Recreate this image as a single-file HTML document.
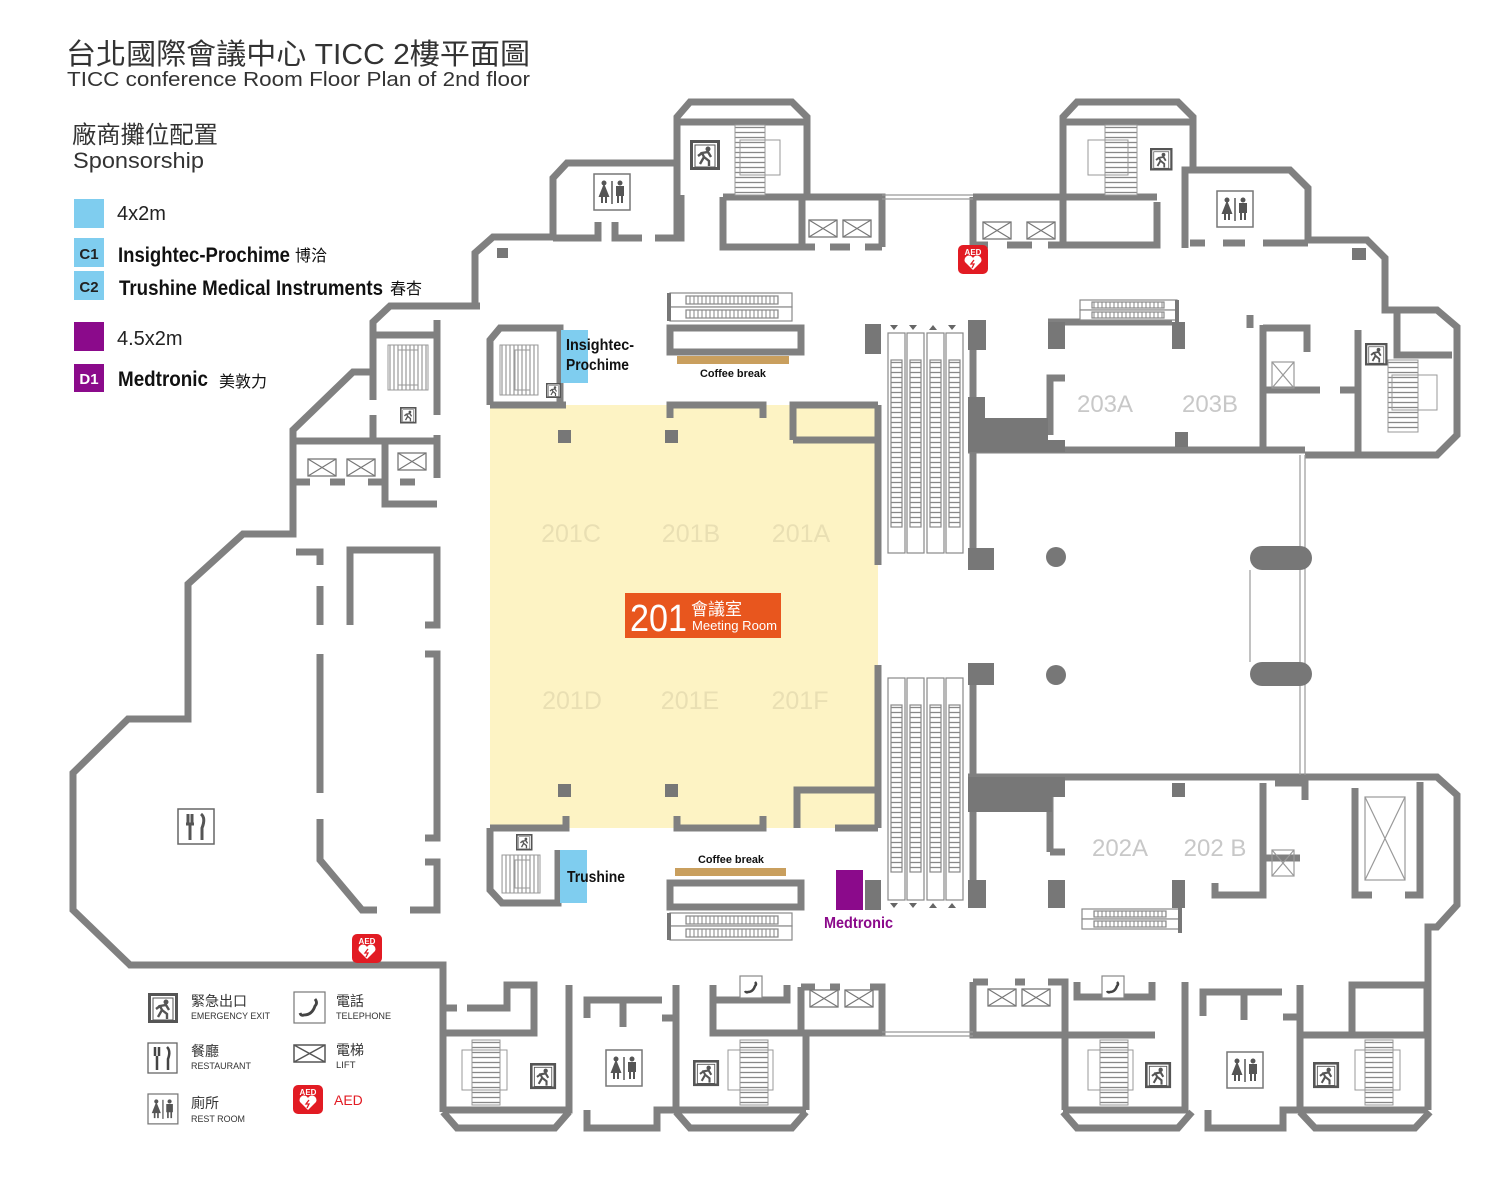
<!DOCTYPE html>
<html><head><meta charset="utf-8"><style>
html,body{margin:0;padding:0;background:#fff;}
svg{display:block;}
.t{font-family:"Liberation Sans","Noto Sans CJK TC",sans-serif;}
.n{font-family:"Liberation Sans Narrow","Liberation Sans","Noto Sans CJK TC",sans-serif;font-weight:bold;}
</style></head><body>
<svg width="1500" height="1178" viewBox="0 0 1500 1178" xmlns="http://www.w3.org/2000/svg">
<defs>
<pattern id="tread" width="6" height="5" patternUnits="userSpaceOnUse"><rect width="6" height="5" fill="#fff"/><line x1="0" y1="2.5" x2="6" y2="2.5" stroke="#888" stroke-width="1.3"/></pattern>
<pattern id="treadv" width="4" height="6" patternUnits="userSpaceOnUse"><rect width="4" height="6" fill="#fff"/><line x1="2" y1="0" x2="2" y2="6" stroke="#999" stroke-width="1.2"/></pattern>
<g id="exit"><rect x="0" y="0" width="30" height="30" fill="#555"/><rect x="3" y="3" width="24" height="24" fill="#fff"/><path d="M5 27 L5 5 L25 5 L25 27 Z" fill="none" stroke="#555" stroke-width="1"/><circle cx="18" cy="9" r="2.5" fill="#555"/><path d="M10 24 L14 17 L12 13 L18 12 L21 17 M14 17 L19 21 L19 26 M12 13 L8 16" fill="none" stroke="#555" stroke-width="2.4"/></g>
<g id="wc"><rect x="0" y="0" width="36" height="36" fill="#fff" stroke="#777" stroke-width="1.5"/><circle cx="10" cy="9" r="2.5" fill="#555"/><path d="M6 22 L10 12 L14 22 Z M8 22 L8 29 M12 22 L12 29" fill="#555" stroke="#555" stroke-width="2"/><line x1="18" y1="7" x2="18" y2="30" stroke="#555" stroke-width="1.5"/><circle cx="26" cy="9" r="2.5" fill="#555"/><path d="M23 13 L29 13 L29 21 L23 21 Z M24 21 L24 29 M28 21 L28 29" fill="#555" stroke="#555" stroke-width="2"/></g>
<g id="lift"><rect x="0" y="0" width="28" height="17" fill="#fff" stroke="#777" stroke-width="1.3"/><path d="M0 0 L28 17 M28 0 L0 17" stroke="#777" stroke-width="1.2"/></g>
<g id="aed"><rect x="0" y="0" width="30" height="29" rx="5" fill="#e21b23"/><text x="15" y="10" font-size="8" fill="#fff" text-anchor="middle" font-family="Liberation Sans" font-weight="bold">AED</text><path d="M15 25 L7 17 A4 4 0 0 1 15 13 A4 4 0 0 1 23 17 Z" fill="#fff"/><path d="M16 15 L13 19 L16 19 L14 23" stroke="#e21b23" stroke-width="1.3" fill="none"/></g>
<g id="phone"><rect x="0" y="0" width="22" height="22" fill="#fff" stroke="#888" stroke-width="1.2"/><path d="M15 6 Q17 8 15 10 Q13 16 8 16 Q6 17 5 15" fill="none" stroke="#444" stroke-width="2.5"/></g>
</defs>

<!-- Titles -->
<text class="t" x="66" y="64" font-size="29" fill="#333" textLength="464" lengthAdjust="spacingAndGlyphs">台北國際會議中心 TICC 2樓平面圖</text>
<text class="t" x="67" y="86" font-size="20.5" fill="#333" textLength="463" lengthAdjust="spacingAndGlyphs">TICC conference Room Floor Plan of 2nd floor</text>
<text class="t" x="72" y="143" font-size="24" fill="#333" textLength="146" lengthAdjust="spacingAndGlyphs">廠商攤位配置</text>
<text class="t" x="73" y="168" font-size="22" fill="#333" textLength="131" lengthAdjust="spacingAndGlyphs">Sponsorship</text>
<rect x="74" y="199" width="30" height="29" fill="#7fcdef"/>
<text class="t" x="117" y="220" font-size="20" fill="#222">4x2m</text>
<rect x="74" y="238" width="30" height="29" fill="#7fcdef"/>
<text class="t" x="89" y="259" font-size="15" font-weight="bold" fill="#222" text-anchor="middle">C1</text>
<text class="n" x="118" y="262" font-size="21" fill="#111" textLength="172" lengthAdjust="spacingAndGlyphs">Insightec-Prochime</text>
<text class="t" x="295" y="261" font-size="16" fill="#111">博洽</text>
<rect x="74" y="271" width="30" height="29" fill="#7fcdef"/>
<text class="t" x="89" y="292" font-size="15" font-weight="bold" fill="#222" text-anchor="middle">C2</text>
<text class="n" x="119" y="295" font-size="21" fill="#111" textLength="264" lengthAdjust="spacingAndGlyphs">Trushine Medical Instruments</text>
<text class="t" x="390" y="294" font-size="16" fill="#111">春杏</text>
<rect x="74" y="322" width="30" height="29" fill="#8b0a8b"/>
<text class="t" x="117" y="345" font-size="20" fill="#222">4.5x2m</text>
<rect x="74" y="364" width="30" height="28" fill="#8b0a8b"/>
<text class="t" x="89" y="384" font-size="15" font-weight="bold" fill="#fff" text-anchor="middle">D1</text>
<text class="n" x="118" y="386" font-size="21" fill="#111" textLength="90" lengthAdjust="spacingAndGlyphs">Medtronic</text>
<text class="t" x="219" y="387" font-size="16" fill="#111">美敦力</text>

<!-- Room 201 yellow -->
<rect x="490" y="405" width="388" height="423" fill="#fdf3c4"/>

<g fill="none" stroke="#808080" stroke-width="7" stroke-linejoin="miter" stroke-linecap="butt">
<path d="M480 306 L390 306 L373 322 L373 400 M373 415 L373 441 M373 372 L353 372 L293 430 L293 534 L243 534 L188 584 L188 719 L128 719 L73 773 L73 910 L130 965 L443 965 L443 1112"/>
<path d="M373 335 L437 335 M437 320 L437 415"/>
<path d="M296 441 L437 441 M296 482 L310 482 M330 482 L345 482 M368 482 L385 482 M385 441 L385 504 L437 504 M437 435 L437 478 M400 482 L415 482"/>
<path d="M296 552 L320 552 L320 565 M320 586 L320 625 M320 654 L320 793 M320 819 L320 860 L362 910 L377 910 M410 910 L437 910 L437 862 L425 862"/>
<path d="M350 625 L350 550 L437 550 L437 625 L425 625 M425 654 L437 654 L437 838 L425 838"/>
<path d="M475 303 L475 253 L493 237 L553 237 L553 178 L567 163 L677 163 L677 117 L690 102 L792 102 L807 117 L807 197"/>
<path d="M677 122 L807 122 M677 163 L677 237 M553 238 L598 238 L598 222 M615 222 L615 238 L642 238 M655 238 L681 238 L681 195"/>
<path d="M723 197 L882 197 L882 247 M723 197 L723 247 L802 247 L802 197 M802 247 L815 247 M830 247 L850 247 M865 247 L882 247"/>
<path d="M973 197 L1157 197 M973 197 L973 245 L988 245 M1007 245 L1032 245 M1048 245 L1157 245 L1157 202 M1063 245 L1063 117 L1077 102 L1178 102 L1193 117 L1193 170"/>
<path d="M1063 122 L1193 122"/>
<path d="M1185 248 L1185 170 L1290 170 L1308 188 L1308 240 L1367 240 L1385 258 L1385 310 L1437 310 L1457 327 L1457 435 L1437 455 L1305 455"/>
<path d="M1190 243 L1205 243 M1223 243 L1245 243 M1263 243 L1308 243"/>
<path d="M1397 312 L1397 355 L1452 355 M1358 330 L1358 452 M1263 325 L1263 450 M1263 328 L1307 328 L1307 352 M1263 390 L1320 390 M1340 390 L1358 390 M1250 328 L1250 315"/>
<path d="M1050 435 L1050 378 L1065 378 M1048 322 L1172 322"/>
<path d="M968 450 L1305 450"/>
<path d="M973 350 L973 565 M973 665 L973 880"/>
<path d="M878 405 L878 565 M878 665 L878 828"/>
<path d="M968 777 L1437 777 L1457 795 L1457 905 L1437 927 L1428 927 L1428 1110"/>
<path d="M1050 852 L1050 790 M1050 852 L1065 852 M1263 783 L1263 895 L1215 895 L1215 883 M1275 783 L1305 783 L1305 800 M1355 788 L1355 895 L1372 895 M1405 895 L1420 895 L1420 782 M1263 858 L1300 858"/>
<path d="M490 405 L490 340 L500 328 L560 328 L560 405"/>
<path d="M490 828 L490 890 L502 903 L558 903 L558 850"/>
<path d="M490 405 L566 405 M670 418 L670 405 L763 405 L763 418 M793 440 L793 405 L878 405 M793 440 L878 440"/>
<path d="M490 828 L566 828 L566 816 M677 816 L677 828 L763 828 L763 816 M797 828 L797 790 L878 790 M835 828 L878 828"/>
<rect x="670" y="328" width="131" height="24"/>
<rect x="670" y="883" width="131" height="24"/>
<path d="M443 1008 L457 1008 M467 1008 L507 1008 L507 985 L534 985 L534 1033 L443 1033 M443 1110 L569 1110 L569 985 M443 1112 L457 1128 L555 1128 L569 1112"/>
<path d="M587 1018 L587 1000 L662 1000 M623 1000 L623 1027 M662 1018 L676 1018 M676 985 L676 1110 M587 1110 L587 1128 L657 1128 L657 1110 L676 1110"/>
<path d="M713 985 L713 1000 L787 1000 L787 985 M713 1000 L713 1033 L806 1033 M676 1110 L806 1110 M676 1112 L690 1128 L792 1128 L806 1112 M806 1110 L806 1033"/>
<path d="M801 987 L815 987 M830 987 L840 987 M870 987 L882 987 L882 1033 L801 1033 L801 987"/>
<path d="M973 982 L973 1035 L1065 1035 L1065 1110 M973 982 L988 982 M1015 982 L1025 982 M1048 982 L1065 982 L1065 1035 M1077 982 L1077 997 L1152 997 L1152 982 M1065 1035 L1155 1035 M1185 982 L1185 1110 L1063 1110 M1063 1112 L1077 1128 L1178 1128 L1192 1112"/>
<path d="M1203 1016 L1203 992 L1282 992 M1244 992 L1244 1020 M1283 1017 L1300 1017 M1300 985 L1300 1110 M1208 1110 L1208 1128 L1283 1128 L1283 1110 L1300 1110"/>
<path d="M1352 985 L1427 985 L1427 1035 L1352 1035 Z M1300 1035 L1352 1035 M1300 1110 L1428 1110 M1300 1112 L1315 1128 L1415 1128 L1430 1112"/>
</g>
<g stroke="#999" stroke-width="1.2" fill="none">
<path d="M882 195 L973 195 M882 199 L973 199 M882 1032 L973 1032 M882 1036 L973 1036"/>
<path d="M1300 455 L1300 775 M1305 455 L1305 775 M1250 570 L1250 662"/>
<rect x="1365" y="797" width="40" height="83"/><path d="M1365 797 L1405 880 M1405 797 L1365 880"/>
<rect x="1272" y="362" width="22" height="26"/><path d="M1272 362 L1294 388 M1294 362 L1272 388"/>
<rect x="1272" y="850" width="22" height="26"/><path d="M1272 850 L1294 876 M1294 850 L1272 876"/>
</g>
<g fill="#777">
<rect x="497" y="248" width="11" height="10"/><rect x="1352" y="248" width="14" height="12"/>
<rect x="865" y="324" width="16" height="30"/><rect x="968" y="320" width="18" height="30"/>
<rect x="968" y="548" width="26" height="22"/><rect x="968" y="663" width="26" height="22"/>
<rect x="865" y="880" width="16" height="30"/><rect x="968" y="880" width="18" height="28"/>
<path d="M968 397 L985 397 L985 418 L1048 418 L1048 440 L1065 440 L1065 452 L968 452 Z"/>
<rect x="1048" y="322" width="17" height="27"/><rect x="1172" y="322" width="13" height="27"/><rect x="1175" y="432" width="13" height="15"/>
<path d="M968 777 L1065 777 L1065 797 L1052 797 L1052 812 L968 812 Z"/>
<rect x="1172" y="783" width="13" height="14"/><rect x="1048" y="880" width="17" height="28"/><rect x="1172" y="880" width="13" height="28"/>
<rect x="558" y="430" width="13" height="13"/><rect x="665" y="430" width="13" height="13"/><rect x="558" y="784" width="13" height="13"/><rect x="665" y="784" width="13" height="13"/>
<circle cx="1056" cy="557" r="10"/><circle cx="1056" cy="675" r="10"/>
<rect x="1250" y="546" width="62" height="24" rx="12"/><rect x="1250" y="662" width="62" height="24" rx="12"/>
</g>
<g stroke="#888" stroke-width="1.2">
<rect x="888" y="333" width="17" height="220" fill="#fff"/><rect x="907" y="333" width="17" height="220" fill="#fff"/><rect x="927" y="333" width="17" height="220" fill="#fff"/><rect x="946" y="333" width="17" height="220" fill="#fff"/>
<rect x="891" y="360" width="11" height="167" fill="url(#tread)"/><rect x="910" y="360" width="11" height="167" fill="url(#tread)"/><rect x="930" y="360" width="11" height="167" fill="url(#tread)"/><rect x="949" y="360" width="11" height="167" fill="url(#tread)"/>
<rect x="888" y="678" width="17" height="222" fill="#fff"/><rect x="907" y="678" width="17" height="222" fill="#fff"/><rect x="927" y="678" width="17" height="222" fill="#fff"/><rect x="946" y="678" width="17" height="222" fill="#fff"/>
<rect x="891" y="705" width="11" height="167" fill="url(#tread)"/><rect x="910" y="705" width="11" height="167" fill="url(#tread)"/><rect x="930" y="705" width="11" height="167" fill="url(#tread)"/><rect x="949" y="705" width="11" height="167" fill="url(#tread)"/>
<rect x="670" y="293" width="122" height="14" fill="#fff"/><rect x="670" y="307" width="122" height="14" fill="#fff"/>
<rect x="686" y="296" width="92" height="8" fill="url(#treadv)"/><rect x="686" y="310" width="92" height="8" fill="url(#treadv)"/>
<rect x="670" y="913" width="122" height="13" fill="#fff"/><rect x="670" y="926" width="122" height="14" fill="#fff"/>
<rect x="686" y="916" width="92" height="8" fill="url(#treadv)"/><rect x="686" y="929" width="92" height="8" fill="url(#treadv)"/>
<rect x="1080" y="300" width="97" height="10" fill="#fff"/><rect x="1080" y="310" width="97" height="10" fill="#fff"/>
<rect x="1092" y="302" width="72" height="6" fill="url(#treadv)"/><rect x="1092" y="312" width="72" height="6" fill="url(#treadv)"/>
<rect x="1082" y="909" width="97" height="10" fill="#fff"/><rect x="1082" y="919" width="97" height="10" fill="#fff"/>
<rect x="1094" y="911" width="72" height="6" fill="url(#treadv)"/><rect x="1094" y="921" width="72" height="6" fill="url(#treadv)"/>
</g>
<g fill="#666">
<path d="M890 325 L898 325 L894 330 Z M909 325 L917 325 L913 330 Z M929 330 L937 330 L933 325 Z M948 325 L956 325 L952 330 Z"/>
<path d="M890 903 L898 903 L894 908 Z M909 903 L917 903 L913 908 Z M929 908 L937 908 L933 903 Z M948 908 L956 908 L952 903 Z"/>
</g>
<rect x="667" y="293" width="4" height="28" fill="#777"/><rect x="667" y="913" width="4" height="27" fill="#777"/>
<rect x="1175" y="300" width="4" height="28" fill="#777"/><rect x="1178" y="905" width="4" height="28" fill="#777"/>
<g stroke="#999" stroke-width="1" fill="none">
<rect x="735" y="125" width="30" height="70" fill="url(#tread)"/><rect x="740" y="140" width="40" height="35"/>
<rect x="1105" y="125" width="32" height="70" fill="url(#tread)"/><rect x="1088" y="140" width="40" height="35"/>
<rect x="1388" y="360" width="30" height="72" fill="url(#tread)"/><rect x="1392" y="375" width="45" height="35"/>
<rect x="500" y="345" width="38" height="50" fill="url(#treadv)"/><rect x="515" y="350" width="15" height="40"/>
<rect x="388" y="345" width="40" height="45" fill="url(#treadv)"/><rect x="398" y="350" width="20" height="35"/>
<rect x="502" y="855" width="38" height="38" fill="url(#treadv)"/><rect x="515" y="860" width="15" height="28"/>
<rect x="472" y="1040" width="28" height="65" fill="url(#tread)"/><rect x="462" y="1050" width="45" height="40"/>
<rect x="740" y="1040" width="28" height="65" fill="url(#tread)"/><rect x="728" y="1050" width="45" height="40"/>
<rect x="1100" y="1040" width="28" height="65" fill="url(#tread)"/><rect x="1088" y="1050" width="45" height="40"/>
<rect x="1365" y="1040" width="28" height="65" fill="url(#tread)"/><rect x="1355" y="1050" width="45" height="40"/>
</g>
<use href="#lift" x="809" y="220"/><use href="#lift" x="843" y="220"/>
<use href="#lift" x="983" y="222"/><use href="#lift" x="1027" y="222"/>
<use href="#lift" x="308" y="459"/><use href="#lift" x="347" y="459"/><use href="#lift" x="398" y="453"/>
<use href="#lift" x="810" y="990"/><use href="#lift" x="845" y="990"/>
<use href="#lift" x="988" y="989"/><use href="#lift" x="1022" y="989"/>
<use href="#exit" x="690" y="140"/><use href="#exit" x="1150" y="148" transform="translate(1150 148) scale(.75) translate(-1150 -148)"/>
<use href="#exit" x="1365" y="343" transform="translate(1365 343) scale(.75) translate(-1365 -343)"/>
<use href="#exit" x="400" y="407" transform="translate(400 407) scale(.55) translate(-400 -407)"/>
<use href="#exit" x="546" y="383" transform="translate(546 383) scale(.5) translate(-546 -383)"/>
<use href="#exit" x="516" y="834" transform="translate(516 834) scale(.55) translate(-516 -834)"/>
<use href="#exit" x="530" y="1063" transform="translate(530 1063) scale(.87) translate(-530 -1063)"/>
<use href="#exit" x="693" y="1060" transform="translate(693 1060) scale(.87) translate(-693 -1060)"/>
<use href="#exit" x="1145" y="1062" transform="translate(1145 1062) scale(.87) translate(-1145 -1062)"/>
<use href="#exit" x="1313" y="1062" transform="translate(1313 1062) scale(.87) translate(-1313 -1062)"/>
<use href="#wc" x="594" y="174"/><use href="#wc" x="1217" y="191"/><use href="#wc" x="606" y="1050"/><use href="#wc" x="1227" y="1052"/>
<use href="#phone" x="740" y="976"/><use href="#phone" x="1102" y="976"/>
<use href="#aed" x="958" y="245"/><use href="#aed" x="352" y="934"/>
<rect x="178" y="809" width="36" height="35" fill="#fff" stroke="#666" stroke-width="1.5"/>
<path d="M188 814 L188 824 M192 814 L192 824 M186 824 L194 824 M190 824 L190 840 M201 814 Q206 818 202 828 L202 840" stroke="#555" stroke-width="3" fill="none"/>

<rect x="561" y="330" width="27" height="53" fill="#7fcdef"/>
<rect x="560" y="850" width="27" height="53" fill="#7fcdef"/>
<rect x="836" y="870" width="27" height="40" fill="#8b0a8b"/>
<rect x="677" y="356" width="112" height="8" fill="#c99f5e"/>
<rect x="675" y="868" width="111" height="8" fill="#c99f5e"/>
<text class="n" x="566" y="350" font-size="16" fill="#111" textLength="68" lengthAdjust="spacingAndGlyphs">Insightec-</text>
<text class="n" x="566" y="370" font-size="16" fill="#111" textLength="63" lengthAdjust="spacingAndGlyphs">Prochime</text>
<text class="n" x="567" y="882" font-size="16" fill="#111" textLength="58" lengthAdjust="spacingAndGlyphs">Trushine</text>
<text class="n" x="824" y="928" font-size="16" fill="#8b0a8b" textLength="69" lengthAdjust="spacingAndGlyphs">Medtronic</text>
<text class="n" x="700" y="377" font-size="11" fill="#111" textLength="66" lengthAdjust="spacingAndGlyphs">Coffee break</text>
<text class="n" x="698" y="863" font-size="11" fill="#111" textLength="66" lengthAdjust="spacingAndGlyphs">Coffee break</text>

<g class="t" font-size="25" fill="#e9dfb3" text-anchor="middle">
<text x="571" y="542">201C</text><text x="691" y="542">201B</text><text x="801" y="542">201A</text>
<text x="572" y="709">201D</text><text x="690" y="709">201E</text><text x="800" y="709">201F</text>
</g>
<g class="t" font-size="24" fill="#c8c8c8" text-anchor="middle">
<text x="1105" y="412">203A</text><text x="1210" y="412">203B</text>
<text x="1120" y="856">202A</text><text x="1215" y="856">202 B</text>
</g>
<rect x="625" y="593" width="156" height="45" fill="#e8561e"/>
<text class="t" x="630" y="631" font-size="38" fill="#fff" textLength="57" lengthAdjust="spacingAndGlyphs">201</text>
<text class="t" x="691" y="615" font-size="17" fill="#fff">會議室</text>
<text class="t" x="692" y="630" font-size="12.5" fill="#fff" textLength="85" lengthAdjust="spacingAndGlyphs">Meeting Room</text>

<use href="#exit" x="148" y="993"/>
<text class="t" x="191" y="1006" font-size="14" fill="#333">緊急出口</text>
<text class="t" x="191" y="1019" font-size="9.5" fill="#333" textLength="79" lengthAdjust="spacingAndGlyphs">EMERGENCY EXIT</text>
<rect x="148" y="1043" width="29" height="30" fill="#fff" stroke="#666" stroke-width="1.3"/>
<path d="M155 1047 L155 1056 M159 1047 L159 1056 M157 1056 L157 1070 M167 1047 Q171 1051 168 1059 L168 1070" stroke="#444" stroke-width="2.5" fill="none"/>
<text class="t" x="191" y="1056" font-size="14" fill="#333">餐廳</text>
<text class="t" x="191" y="1069" font-size="9.5" fill="#333" textLength="60" lengthAdjust="spacingAndGlyphs">RESTAURANT</text>
<use href="#wc" x="148" y="1094" transform="translate(148 1094) scale(.83) translate(-148 -1094)"/>
<text class="t" x="191" y="1108" font-size="14" fill="#333">廁所</text>
<text class="t" x="191" y="1122" font-size="9.5" fill="#333" textLength="54" lengthAdjust="spacingAndGlyphs">REST ROOM</text>
<rect x="294" y="992" width="31" height="31" fill="#fff" stroke="#777" stroke-width="1.2"/>
<path d="M315 999 Q318 1003 315 1006 Q312 1015 304 1015 Q301 1016 300 1013" fill="none" stroke="#444" stroke-width="2.8"/>
<text class="t" x="336" y="1006" font-size="14" fill="#333">電話</text>
<text class="t" x="336" y="1019" font-size="9.5" fill="#333" textLength="55" lengthAdjust="spacingAndGlyphs">TELEPHONE</text>
<rect x="294" y="1045" width="31" height="17" fill="#fff" stroke="#555" stroke-width="1.5"/>
<path d="M294 1045 L325 1062 M325 1045 L294 1062" stroke="#555" stroke-width="1.5"/>
<text class="t" x="336" y="1055" font-size="14" fill="#333">電梯</text>
<text class="t" x="336" y="1068" font-size="9.5" fill="#333">LIFT</text>
<use href="#aed" x="293" y="1085"/>
<text class="t" x="334" y="1105" font-size="14" fill="#e21b23">AED</text>
</svg>
</body></html>
